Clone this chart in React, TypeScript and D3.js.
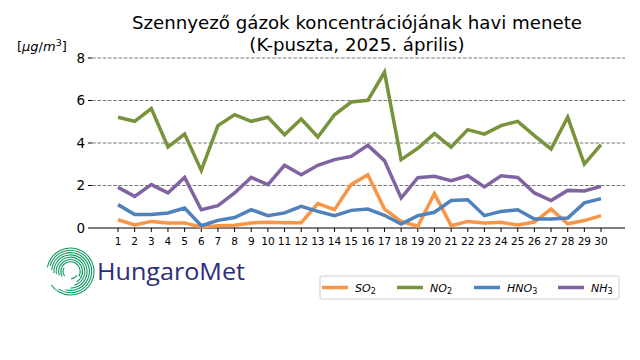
import React from "react";
import * as d3 from "d3";

const days = d3.range(1, 31);
const so2 = [0.39, 0.14, 0.31, 0.24, 0.24, 0.05, 0.11, 0.13, 0.24, 0.27, 0.25, 0.25, 1.15, 0.86, 2.04, 2.51, 0.89, 0.31, 0.08, 1.62, 0.11, 0.31, 0.24, 0.27, 0.14, 0.28, 0.89, 0.2, 0.35, 0.58];
const no2 = [5.21, 5.02, 5.62, 3.81, 4.42, 2.71, 4.82, 5.33, 5.02, 5.21, 4.39, 5.13, 4.28, 5.33, 5.93, 6.01, 7.33, 3.22, 3.75, 4.44, 3.81, 4.63, 4.42, 4.82, 5.02, 4.35, 3.72, 5.22, 3.01, 3.92];
const hno3 = [1.1, 0.63, 0.64, 0.71, 0.94, 0.11, 0.36, 0.49, 0.86, 0.58, 0.71, 1.02, 0.78, 0.58, 0.83, 0.89, 0.6, 0.19, 0.58, 0.74, 1.29, 1.33, 0.58, 0.78, 0.86, 0.42, 0.42, 0.47, 1.18, 1.38];
const nh3 = [1.91, 1.49, 2.04, 1.65, 2.38, 0.86, 1.05, 1.65, 2.38, 2.04, 2.95, 2.51, 2.95, 3.22, 3.37, 3.89, 3.17, 1.41, 2.37, 2.43, 2.23, 2.46, 1.93, 2.46, 2.38, 1.65, 1.29, 1.77, 1.74, 1.96];
const yTicks = [0, 2, 4, 6, 8];
const seriesNames = [
  { base: "SO", sub: "2" },
  { base: "NO", sub: "2" },
  { base: "HNO", sub: "3" },
  { base: "NH", sub: "3" },
];
const seriesValues = [so2, no2, hno3, nh3];
const colors = ["#F79646", "#77933C", "#4F81BD", "#8064A2"];

const FONT = "DejaVu Sans, sans-serif";

export default function App() {
  const x = d3.scaleLinear().domain([1, 30]).range([118, 601]);
  const y = d3.scaleLinear().domain([0, 8]).range([228, 58]);
  const axL = 92, axR = 625;
  const line = (vals: number[]) =>
    d3.line<number>().x((_, i) => x(days[i])).y((d) => y(d))(vals) || "";

  const cx = 70.5, cy = 271.5;
  const arcs = [
    { r: 23.5, a0: -80, a1: 235 },
    { r: 21.2, a0: -75, a1: 215 },
    { r: 18.9, a0: -85, a1: 195 },
    { r: 16.6, a0: -95, a1: 180 },
    { r: 14.3, a0: -100, a1: 165 },
    { r: 12, a0: -110, a1: 150 },
    { r: 9.7, a0: -120, a1: 120 },
    { r: 7.4, a0: -130, a1: -60 },
    { r: 7.4, a0: 120, a1: 175 },
  ];
  const arcGen = d3.arc();

  const legendX = [322, 397, 474, 558];

  return (
    <svg width={640} height={360} style={{ position: "absolute", left: 0, top: 0, background: "#fff" }} fontFamily={FONT}>
      <defs>
        <linearGradient id="lg" gradientUnits="userSpaceOnUse" x1={0} y1={cy - 24} x2={0} y2={cy + 24}>
          <stop offset="0" stopColor="#0f9a5c" />
          <stop offset="0.5" stopColor="#17908a" />
          <stop offset="1" stopColor="#2a6fbf" />
        </linearGradient>
      </defs>
      <text x={357} y={29} textAnchor="middle" fontSize={18.2} fill="#000">Szennyező gázok koncentrációjának havi menete</text>
      <text x={357} y={51} textAnchor="middle" fontSize={18.2} fill="#000">(K-puszta, 2025. április)</text>
      <text x={17} y={51} fontSize={13} fill="#000">
        [<tspan fontStyle="italic">μg</tspan>/<tspan fontStyle="italic">m</tspan><tspan dy={-5} fontSize={9.5}>3</tspan><tspan dy={5}>]</tspan>
      </text>
      {yTicks.map((t) => (
        <g key={t}>
          {t > 0 && (
            <line x1={axL} x2={axR} y1={y(t)} y2={y(t)} stroke="#7a7a7a" strokeWidth={1} strokeDasharray="3.7,1.6" />
          )}
          <line x1={axL - 4} x2={axL} y1={y(t)} y2={y(t)} stroke="#000" strokeWidth={1} />
          <text x={axL - 7} y={y(t)} dy="0.36em" textAnchor="end" fontSize={13.5} fill="#000">{t}</text>
        </g>
      ))}
      <line x1={axL} x2={axR} y1={y(0)} y2={y(0)} stroke="#000" strokeWidth={1} />
      {days.map((d) => (
        <g key={d}>
          <line x1={x(d)} x2={x(d)} y1={y(0)} y2={y(0) + 4} stroke="#000" strokeWidth={1} />
          <text x={x(d)} y={y(0) + 17} textAnchor="middle" fontSize={10.5} fill="#000">{d}</text>
        </g>
      ))}
      {seriesValues.map((vals, i) => (
        <path key={i} d={line(vals)} fill="none" stroke={colors[i]} strokeWidth={3.5} strokeLinejoin="miter" />
      ))}
      <g>
        {arcs.map((a, i) => (
          <path
            key={i}
            transform={`translate(${cx},${cy})`}
            d={arcGen({ innerRadius: a.r - 0.55, outerRadius: a.r + 0.55, startAngle: (a.a0 * Math.PI) / 180, endAngle: (a.a1 * Math.PI) / 180 }) || ""}
            fill="url(#lg)"
          />
        ))}
        <text x={97} y={280} fontFamily="Open Sans, sans-serif" fontWeight={400} fontSize={24} textLength={148} lengthAdjust="spacingAndGlyphs" fill="#2b2d7c">HungaroMet</text>
      </g>
      <rect x={320} y={276} width={299} height={23} rx={2} fill="#fff" stroke="#d0d0d0" strokeWidth={1} />
      {seriesNames.map((s, i) => (
        <g key={i}>
          <line x1={legendX[i]} x2={legendX[i] + 26} y1={287.5} y2={287.5} stroke={colors[i]} strokeWidth={3.5} />
          <text x={legendX[i] + 33} y={291.5} fontSize={11} fontStyle="italic" fill="#000">
            {s.base}<tspan dy={2.5} fontSize={8} fontStyle="normal">{s.sub}</tspan>
          </text>
        </g>
      ))}
    </svg>
  );
}
